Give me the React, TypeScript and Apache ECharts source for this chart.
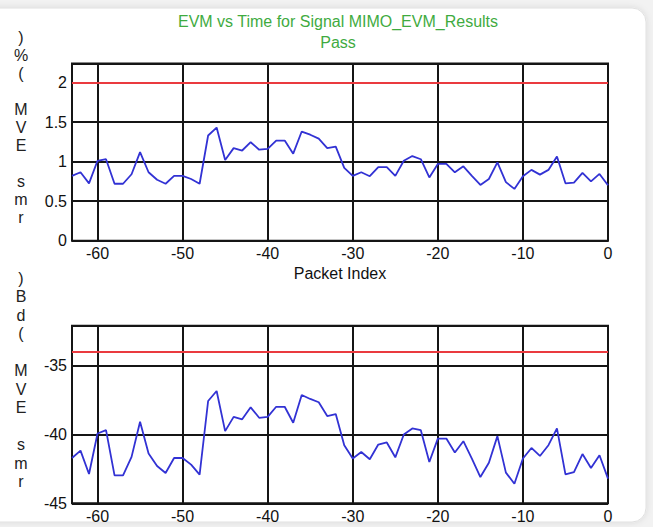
import React, { useEffect, useRef } from "react";
import * as echarts from "echarts";

const packetIndex = [
  -63, -62, -61, -60, -59, -58, -57, -56, -55, -54, -53, -52, -51, -50, -49, -48,
  -47, -46, -45, -44, -43, -42, -41, -40, -39, -38, -37, -36, -35, -34, -33, -32,
  -31, -30, -29, -28, -27, -26, -25, -24, -23, -22, -21, -20, -19, -18, -17, -16,
  -15, -14, -13, -12, -11, -10, -9, -8, -7, -6, -5, -4, -3, -2, -1, 0,
];

const evmPercent = [
  0.82, 0.865, 0.725, 1.01, 1.03, 0.72, 0.72, 0.84, 1.12, 0.865,
  0.77, 0.72, 0.82, 0.82, 0.78, 0.72, 1.33, 1.43, 1.02, 1.17,
  1.14, 1.245, 1.15, 1.16, 1.266, 1.266, 1.1, 1.38, 1.34, 1.29,
  1.17, 1.19, 0.92, 0.82, 0.865, 0.815, 0.93, 0.93, 0.82, 1.01,
  1.07, 1.03, 0.8, 0.97, 0.97, 0.865, 0.94, 0.82, 0.705, 0.78,
  0.99, 0.74, 0.655, 0.815, 0.895, 0.835, 0.895, 1.065, 0.725, 0.735,
  0.857, 0.75, 0.844, 0.7,
];

const evmDb = [
  -41.71, -41.17, -42.87, -39.93, -39.69, -42.97, -42.97, -41.63, -39.08, -41.39,
  -42.29, -42.8, -41.71, -41.71, -42.19, -42.92, -37.57, -36.84, -39.76, -38.72,
  -38.9, -38.03, -38.79, -38.72, -37.99, -37.99, -39.15, -37.13, -37.42, -37.66,
  -38.66, -38.52, -40.78, -41.75, -41.27, -41.8, -40.73, -40.58, -41.66, -40.0,
  -39.56, -39.69, -42.0, -40.3, -40.3, -41.31, -40.49, -41.75, -43.09, -42.05,
  -40.12, -42.77, -43.58, -41.75, -40.98, -41.56, -40.78, -39.56, -42.9, -42.73,
  -41.42, -42.44, -41.51, -43.21,
];

const xTicks = [-60, -50, -40, -30, -20, -10, 0];
const limitPercent = [2];
const limitDb = [-34];

const titleLines = ["EVM vs Time for Signal MIMO_EVM_Results", "Pass"];
const xAxisName = "Packet Index";
const yNameTop = ")\n%\n(\n\nM\nV\nE\n\ns\nm\nr";
const yNameBottom = ")\nB\nd\n(\n\nM\nV\nE\n\ns\nm\nr";

const FONT = '"Liberation Sans", Arial, sans-serif';

export default function App() {
  const ref = useRef<HTMLDivElement>(null);

  useEffect(() => {
    document.body.style.margin = "0";
    if (!ref.current) return;
    const chart = echarts.init(ref.current, undefined, { renderer: "svg" });

    const mkX = (gridIndex: number, withName: boolean) => ({
      type: "value",
      gridIndex,
      min: -63,
      max: 0,
      name: withName ? xAxisName : "",
      nameLocation: "middle",
      nameGap: 25,
      nameTextStyle: { fontSize: 16, fontFamily: FONT, color: "#111" },
      axisLine: { show: false },
      axisTick: { show: false, customValues: xTicks },
      axisLabel: {
        customValues: xTicks,
        fontSize: 16,
        fontFamily: FONT,
        color: "#111",
        margin: 5,
      },
      splitLine: { show: true, lineStyle: { color: "#151515", width: 2 } },
    });

    const mkY = (gridIndex: number, min: number, max: number, interval: number) => ({
      type: "value",
      gridIndex,
      min,
      max,
      interval,
      axisLine: { show: false },
      axisTick: { show: false },
      axisLabel: {
        fontSize: 16,
        fontFamily: FONT,
        color: "#111",
        margin: 5,
        showMaxLabel: false,
      },
      splitLine: { show: true, lineStyle: { color: "#151515", width: 2 } },
    });

    const lineSeries = (idx: number, vals: number[], limit: number[]) => ({
      type: "line",
      xAxisIndex: idx,
      yAxisIndex: idx,
      data: packetIndex.map((x, i) => [x, vals[i]]),
      showSymbol: false,
      symbol: "none",
      lineStyle: { color: "#3232d4", width: 1.8 },
      itemStyle: { color: "#3232d4" },
      markLine: {
        silent: true,
        symbol: ["none", "none"],
        label: { show: false },
        lineStyle: { color: "#ea3a3f", type: "solid", width: 2.2 },
        data: limit.map((v) => ({ yAxis: v })),
      },
    });

    chart.setOption({
      animation: false,
      backgroundColor: "transparent",
      grid: [
        {
          left: 72,
          right: 45,
          top: 63.5,
          height: 177.2,
          show: true,
          borderColor: "#151515",
          borderWidth: 2,
          backgroundColor: "transparent",
        },
        {
          left: 72,
          right: 45,
          top: 325.7,
          height: 177.6,
          show: true,
          borderColor: "#151515",
          borderWidth: 2,
          backgroundColor: "transparent",
        },
      ],
      xAxis: [mkX(0, true), mkX(1, false)],
      yAxis: [mkY(0, 0, 2.24, 0.5), mkY(1, -45, -32.1, 5)],
      series: [lineSeries(0, evmPercent, limitPercent), lineSeries(1, evmDb, limitDb)],
      graphic: [
        {
          type: "rect",
          z: -100,
          silent: true,
          shape: { x: -20, y: 8, width: 666, height: 514, r: 14 },
          style: {
            fill: "#ffffff",
            stroke: "#e0e0e0",
            lineWidth: 1,
            shadowBlur: 6,
            shadowColor: "rgba(0,0,0,0.10)",
          },
        },
        {
          type: "text",
          x: 338,
          y: 21,
          style: {
            text: titleLines[0],
            font: `16px ${FONT}`,
            fill: "#3fab3f",
            textAlign: "center",
            textVerticalAlign: "middle",
          },
        },
        {
          type: "text",
          x: 338,
          y: 42,
          style: {
            text: titleLines[1],
            font: `16px ${FONT}`,
            fill: "#3fab3f",
            textAlign: "center",
            textVerticalAlign: "middle",
          },
        },
        {
          type: "text",
          x: 21,
          y: 28,
          style: {
            text: yNameTop,
            font: `16px ${FONT}`,
            lineHeight: 18,
            fill: "#222",
            textAlign: "center",
            textVerticalAlign: "top",
          },
        },
        {
          type: "text",
          x: 21,
          y: 268.75,
          style: {
            text: yNameBottom,
            font: `16px ${FONT}`,
            lineHeight: 18.5,
            fill: "#222",
            textAlign: "center",
            textVerticalAlign: "top",
          },
        },
      ],
    });

    return () => chart.dispose();
  }, []);

  return (
    <div
      ref={ref}
      style={{ width: 653, height: 527, background: "#f2f2f2" }}
    />
  );
}
